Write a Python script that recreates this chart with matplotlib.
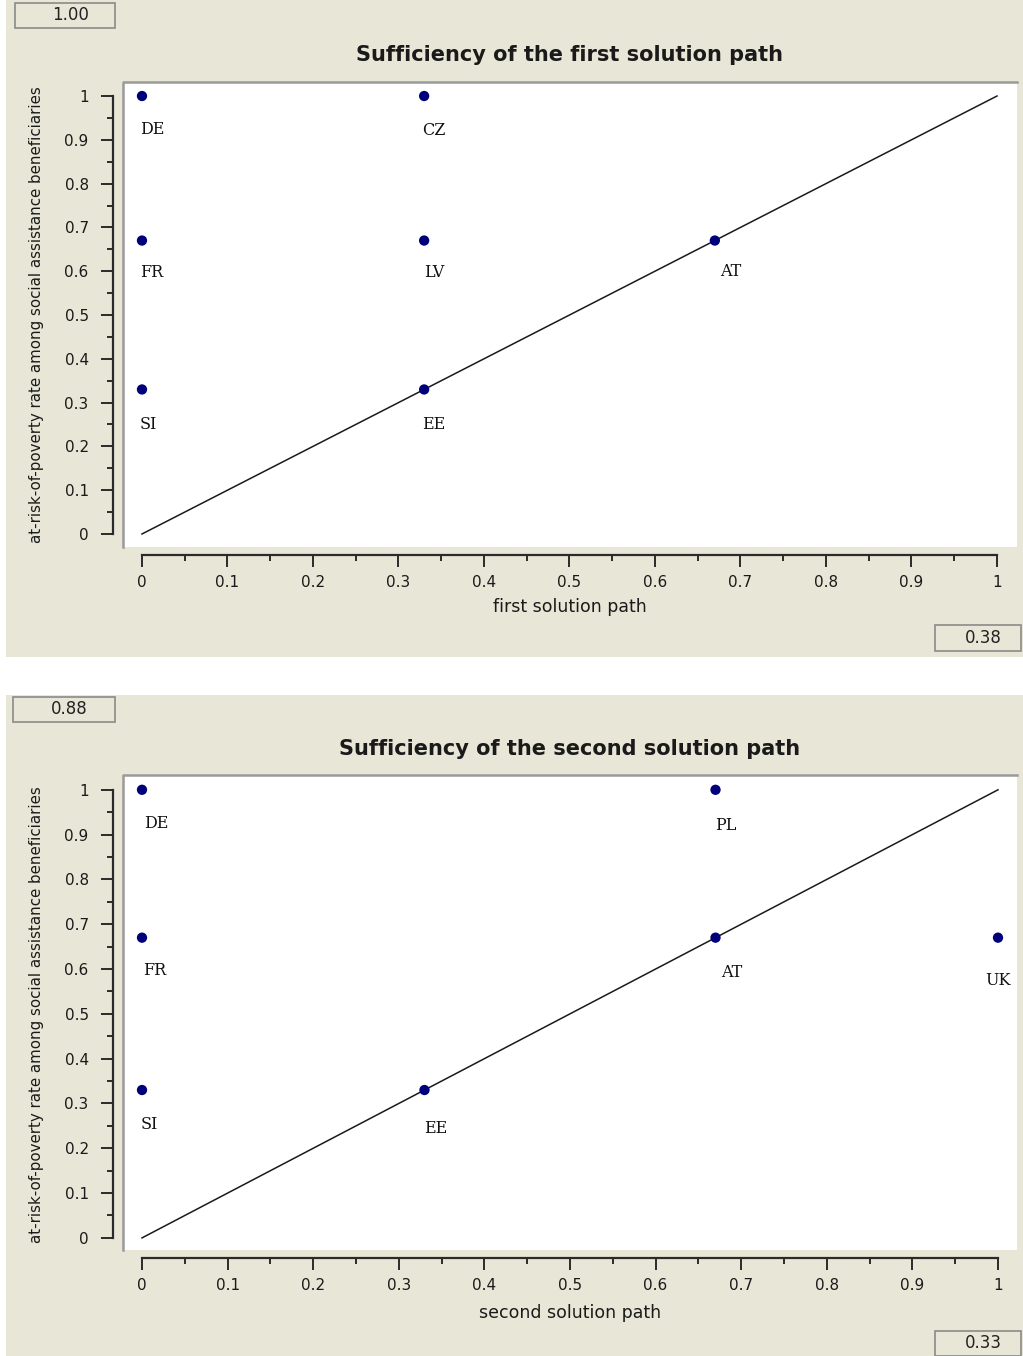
import matplotlib.pyplot as plt
from matplotlib.patches import Rectangle
from matplotlib.ticker import MultipleLocator

# panel 1: first solution path
countries_1 = ['DE', 'CZ', 'FR', 'LV', 'AT', 'SI', 'EE']
x_1 = [0, 0.33, 0, 0.33, 0.67, 0, 0.33]
y_1 = [1, 1, 0.67, 0.67, 0.67, 0.33, 0.33]

# panel 2: second solution path
countries_2 = ['DE', 'PL', 'FR', 'AT', 'UK', 'SI', 'EE']
x_2 = [0, 0.67, 0, 0.67, 1, 0, 0.33]
y_2 = [1, 1, 0.67, 0.67, 0.67, 0.33, 0.33]

titles = ['Sufficiency of the first solution path',
          'Sufficiency of the second solution path']
xlabels = ['first solution path', 'second solution path']
ylabel = 'at-risk-of-poverty rate among social assistance beneficiaries'
top_values = ['1.00', '0.88']
bottom_values = ['0.38', '0.33']

# label offsets in pixels (dx, dy) relative to each point
offsets_1 = {'DE': (10, -33), 'CZ': (10, -34), 'FR': (10, -32), 'LV': (10, -32),
             'AT': (16, -31), 'SI': (6, -35), 'EE': (10, -35)}
offsets_2 = {'DE': (14, -34), 'PL': (10, -36), 'FR': (13, -33), 'AT': (16, -35),
             'UK': (0, -43), 'SI': (7, -34), 'EE': (11, -38)}

W, H = 1023, 1356
BEIGE = '#e7e6d7'
DOT = '#00007a'

fig = plt.figure(figsize=(W / 100, H / 100), dpi=100)
fig.patch.set_facecolor('white')


def px_box(x0, y0, x1, y1):
    # convert pixel box (top-left origin) to figure fraction rect
    return [x0 / W, 1 - y1 / H, (x1 - x0) / W, (y1 - y0) / H]


def value_box(x0, y0, x1, y1, txt):
    r = Rectangle((x0 / W, 1 - y1 / H), (x1 - x0) / W, (y1 - y0) / H,
                  transform=fig.transFigure, facecolor=BEIGE,
                  edgecolor='#8a8a8a', lw=1.2, zorder=2)
    fig.add_artist(r)
    fig.text((x0 + x1) / 2 / W + 0.005, 1 - (y0 + y1) / 2 / H, txt,
             ha='center', va='center', fontsize=12, color='#222222',
             family='DejaVu Sans', zorder=3)


panels = [
    dict(bg=(6, 0, 1023, 657), plot=(123, 82, 1017, 547),
         xlim=(-0.0222, 1.0234), ylim=(-0.0297, 1.032),
         title_y=55, xlabel_y=607, ylabel_y=315,
         tbox=(15, 3, 115, 28), bbox=(935, 625, 1021, 651),
         countries=countries_1, x=x_1, y=y_1, offs=offsets_1),
    dict(bg=(6, 695, 1023, 1356), plot=(123, 775, 1017, 1250),
         xlim=(-0.0222, 1.0222), ylim=(-0.027, 1.033),
         title_y=749, xlabel_y=1313, ylabel_y=1015,
         tbox=(13, 697, 115, 722), bbox=(935, 1331, 1021, 1356),
         countries=countries_2, x=x_2, y=y_2, offs=offsets_2),
]

for i, p in enumerate(panels):
    # beige window background
    x0, y0, x1, y1 = p['bg']
    fig.add_artist(Rectangle((x0 / W, 1 - y1 / H), (x1 - x0) / W, (y1 - y0) / H,
                             transform=fig.transFigure, facecolor=BEIGE,
                             edgecolor='none', zorder=0))

    ax = fig.add_axes(px_box(*p['plot']))
    ax.set_facecolor('white')
    ax.set_xlim(*p['xlim'])
    ax.set_ylim(*p['ylim'])

    # diagonal
    ax.plot([0, 1], [0, 1], color='#1a1a1a', lw=1.1, zorder=2)
    ax.scatter(p['x'], p['y'], s=55, color=DOT, marker='o', zorder=3,
               edgecolors='none')
    for name, xv, yv in zip(p['countries'], p['x'], p['y']):
        dx, dy = p['offs'][name]
        ax.annotate(name, (xv, yv), xytext=(dx, dy), textcoords='offset pixels',
                    ha='center', va='center', fontsize=11.5,
                    family='DejaVu Serif', color='#111111')

    # sunken border on top/left of plot area
    ax.plot([0, 0, 1], [0, 1, 1], transform=ax.transAxes, color='#9a9a9a',
            lw=1.8, clip_on=False, zorder=5)

    for s in ['top', 'right']:
        ax.spines[s].set_visible(False)
    ax.spines['left'].set_position(('outward', 7.2))
    ax.spines['bottom'].set_position(('outward', 5.5))
    ax.spines['left'].set_bounds(0, 1)
    ax.spines['bottom'].set_bounds(0, 1)
    for s in ['left', 'bottom']:
        ax.spines[s].set_color('#2a2a2a')
        ax.spines[s].set_linewidth(1.6)

    ax.xaxis.set_major_locator(MultipleLocator(0.1))
    ax.xaxis.set_minor_locator(MultipleLocator(0.05))
    ax.yaxis.set_major_locator(MultipleLocator(0.1))
    ax.yaxis.set_minor_locator(MultipleLocator(0.05))
    ax.tick_params(which='major', direction='out', length=8.5, width=1.4,
                   color='#2a2a2a', labelsize=11, labelcolor='#1a1a1a')
    ax.tick_params(which='minor', direction='out', length=4.5, width=1.4,
                   color='#2a2a2a')
    ax.tick_params(axis='x', pad=6)
    ax.tick_params(axis='y', pad=9)
    ax.xaxis.set_major_formatter(plt.FuncFormatter(lambda v, pos: f'{v:g}'))
    ax.yaxis.set_major_formatter(plt.FuncFormatter(lambda v, pos: f'{v:g}'))

    fig.text(570 / W, 1 - p['title_y'] / H, titles[i], ha='center', va='center',
             fontsize=15, fontweight='bold', color='#1a1a1a')
    fig.text(570 / W, 1 - p['xlabel_y'] / H, xlabels[i], ha='center', va='center',
             fontsize=12.5, color='#1a1a1a')
    fig.text(37 / W, 1 - p['ylabel_y'] / H, ylabel, ha='center', va='center',
             rotation=90, fontsize=10.8, color='#1a1a1a')

    value_box(*p['tbox'], top_values[i])
    value_box(*p['bbox'], bottom_values[i])

fig.savefig('out.png', dpi=100, facecolor='white')
